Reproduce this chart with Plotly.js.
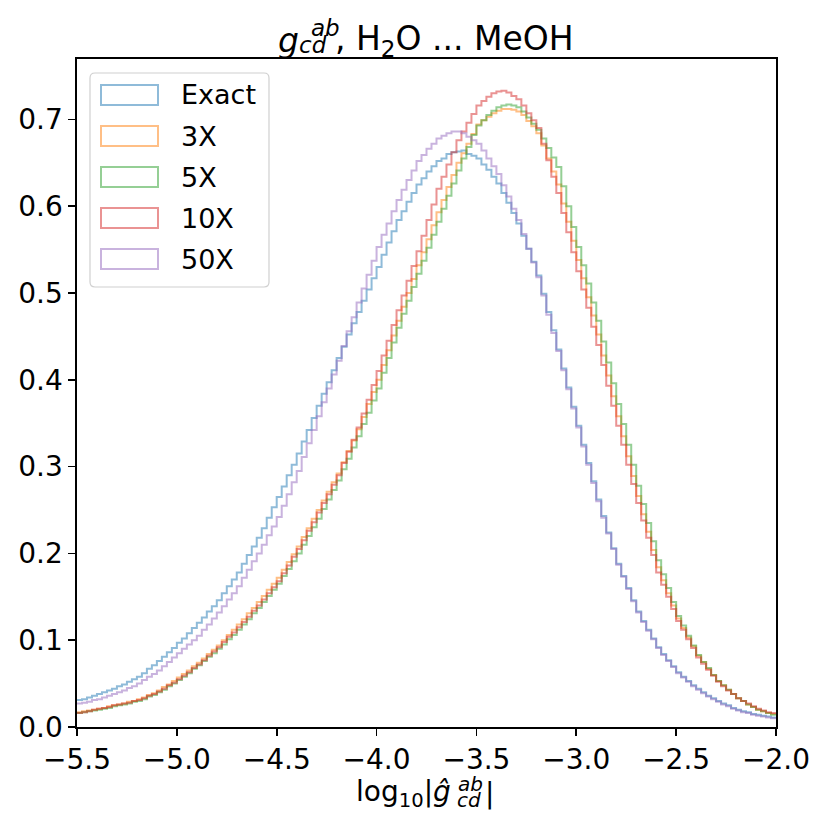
<!DOCTYPE html>
<html>
<head>
<meta charset="utf-8">
<script src="https://cdn.plot.ly/plotly-3.0.1.min.js"></script>
<style>html,body{margin:0;padding:0;background:#fff;}#chart{width:830px;height:830px;}</style>
</head>
<body>
<div id="chart"></div>
<script>
// ---- data ----
const seriesNames = ["Exact", "3X", "5X", "10X", "50X"];
const binStart = -5.5;
const binWidth = 0.025;

const exact = [
.031,.032,.034,.036, .038,.040,.042,.044, .047,.049,.052,.055, .058,.062,.067,.071,
.076,.081,.086,.091, .097,.102,.108,.114, .120,.126,.133,.139, .146,.154,.162,.170,
.178,.188,.198,.208, .218,.229,.241,.253, .265,.277,.290,.302, .315,.329,.342,.356,
.370,.384,.397,.411, .425,.438,.452,.465, .478,.491,.504,.517, .530,.544,.558,.571,
.584,.594,.605,.615, .625,.632,.640,.646, .652,.655,.660,.662, .663,.664,.660,.658,
.655,.648,.642,.634, .626,.615,.604,.592, .580,.566,.551,.536, .520,.499,.478,.457,
.435,.413,.391,.369, .347,.325,.304,.283, .262,.243,.224,.206, .188,.174,.160,.146,
.133,.122,.112,.102, .092,.084,.077,.070, .063,.058,.053,.048, .044,.040,.036,.033,
.030,.027,.025,.022, .020,.018,.017,.015, .014,.013,.012,.011];

const x3 = [
.017,.018,.019,.020, .021,.022,.024,.025, .026,.027,.029,.030, .032,.034,.037,.039,
.042,.046,.049,.053, .057,.061,.065,.070, .074,.079,.084,.089, .094,.100,.106,.112,
.118,.124,.131,.137, .144,.151,.158,.165, .172,.181,.190,.199, .208,.219,.229,.240,
.250,.261,.271,.282, .292,.305,.318,.330, .343,.357,.372,.386, .400,.417,.434,.451,
.468,.484,.500,.516, .532,.547,.562,.578, .593,.607,.622,.636, .650,.661,.672,.683,
.694,.699,.703,.707, .710,.712,.712,.711, .709,.705,.698,.692, .684,.670,.655,.640,
.625,.603,.582,.560, .538,.517,.495,.474, .452,.428,.405,.381, .358,.335,.312,.289,
.266,.245,.225,.204, .184,.169,.154,.140, .125,.114,.103,.093, .082,.075,.067,.060,
.053,.048,.043,.038, .033,.030,.026,.023, .020,.018,.016,.015];

const x5 = [
.016,.017,.018,.019, .020,.021,.022,.024, .025,.026,.027,.029, .030,.032,.035,.037,
.040,.043,.047,.050, .054,.058,.062,.067, .071,.076,.081,.085, .090,.095,.101,.106,
.112,.118,.124,.131, .137,.144,.151,.158, .165,.174,.182,.191, .200,.210,.220,.230,
.240,.251,.262,.273, .284,.297,.309,.322, .335,.349,.362,.376, .390,.408,.425,.443,
.460,.476,.491,.507, .522,.537,.552,.567, .582,.597,.612,.626, .641,.655,.668,.682,
.693,.699,.705,.710, .714,.716,.717,.716, .714,.709,.702,.695, .688,.678,.667,.656,
.645,.623,.600,.576, .553,.532,.511,.489, .468,.444,.420,.396, .372,.349,.325,.302,
.278,.257,.235,.214, .192,.176,.160,.144, .128,.117,.105,.094, .083,.075,.068,.060,
.053,.048,.043,.038, .033,.030,.026,.023, .020,.018,.016,.014];

const x10 = [
.016,.017,.018,.020, .021,.022,.023,.025, .026,.027,.028,.030, .031,.033,.036,.038,
.041,.044,.048,.051, .055,.059,.063,.068, .072,.077,.082,.087, .092,.098,.104,.109,
.115,.121,.127,.134, .140,.147,.154,.161, .168,.177,.186,.196, .205,.215,.226,.236,
.247,.258,.268,.279, .290,.304,.317,.331, .345,.361,.377,.394, .410,.428,.445,.463,
.480,.497,.514,.531, .548,.566,.584,.602, .620,.634,.648,.662, .676,.686,.696,.706,
.716,.721,.726,.730, .732,.733,.731,.727, .723,.716,.707,.699, .690,.672,.653,.634,
.615,.592,.570,.547, .525,.504,.483,.461, .440,.417,.393,.370, .347,.325,.302,.280,
.258,.238,.218,.198, .178,.164,.150,.136, .122,.112,.101,.091, .080,.073,.066,.059,
.052,.047,.042,.038, .033,.030,.027,.024, .021,.019,.017,.016];

const x50 = [
.027,.028,.029,.031, .032,.034,.036,.038, .040,.042,.045,.047, .050,.054,.058,.061,
.065,.070,.075,.080, .085,.090,.095,.100, .105,.112,.118,.125, .132,.139,.147,.154,
.162,.172,.181,.191, .200,.210,.221,.231, .242,.255,.268,.282, .295,.311,.327,.342,
.358,.374,.390,.406, .422,.439,.456,.472, .489,.505,.521,.537, .553,.567,.580,.594,
.607,.619,.630,.641, .652,.659,.666,.672, .678,.681,.684,.686, .686,.684,.680,.676,
.672,.664,.655,.646, .637,.624,.611,.597, .584,.568,.551,.535, .518,.497,.475,.454,
.433,.411,.389,.367, .345,.323,.302,.281, .260,.241,.223,.205, .187,.173,.159,.145,
.132,.121,.111,.101, .091,.083,.076,.069, .062,.057,.052,.047, .043,.039,.035,.032,
.029,.026,.024,.021, .019,.017,.016,.014, .013,.012,.011,.010];

const xTickVals = [-5.5, -5.0, -4.5, -4.0, -3.5, -3.0, -2.5, -2.0];
const yTickVals = [0.0, 0.1, 0.2, 0.3, 0.4, 0.5, 0.6, 0.7];

// ---- drawing ----
const allSeries = [exact, x3, x5, x10, x50];
const colors = ["rgba(31,119,180,0.5)", "rgba(255,127,14,0.5)", "rgba(44,160,44,0.5)", "rgba(214,39,40,0.5)", "rgba(148,103,189,0.5)"];
const FONT = "DejaVu Sans, Liberation Sans, sans-serif";

const traces = allSeries.map((vals, i) => {
  const xs = vals.map((_, k) => binStart + k * binWidth);
  xs.push(binStart + vals.length * binWidth);
  const ys = vals.slice();
  ys.push(vals[vals.length - 1]);
  return {
    x: xs, y: ys, type: "scatter", mode: "lines", name: seriesNames[i],
    line: {shape: "hv", color: colors[i], width: 2}, showlegend: false, hoverinfo: "skip"
  };
});

const L = 77, R = 776, T = 59, B = 727;
const px = p => (p - L) / (R - L);
const py = p => (B - p) / (B - T);

const shapes = [];
const annotations = [];
function txt(text, xPix, yPix, size, xanchor) {
  annotations.push({xref: "paper", yref: "paper", x: px(xPix), y: py(yPix),
    xanchor: xanchor || "left", yanchor: "middle", text: text, showarrow: false,
    borderpad: 0, font: {family: FONT, size: size, color: "#000"}});
}
// legend frame (rounded)
(function(){
  const x0 = 90, x1 = 269, y0 = 73, y1 = 287, r = 5;
  const d = `M ${px(x0 + r)} ${py(y0)} L ${px(x1 - r)} ${py(y0)} Q ${px(x1)} ${py(y0)} ${px(x1)} ${py(y0 + r)} ` +
            `L ${px(x1)} ${py(y1 - r)} Q ${px(x1)} ${py(y1)} ${px(x1 - r)} ${py(y1)} ` +
            `L ${px(x0 + r)} ${py(y1)} Q ${px(x0)} ${py(y1)} ${px(x0)} ${py(y1 - r)} ` +
            `L ${px(x0)} ${py(y0 + r)} Q ${px(x0)} ${py(y0)} ${px(x0 + r)} ${py(y0)} Z`;
  shapes.push({type: "path", xref: "paper", yref: "paper", path: d,
    line: {color: "#d0d0d0", width: 1.2}, fillcolor: "rgba(255,255,255,0.8)", layer: "above"});
})();
const rowTops = [85, 126, 167, 208, 249];
seriesNames.forEach((nm, i) => {
  const top = rowTops[i];
  shapes.push({type: "rect", xref: "paper", yref: "paper",
    x0: px(101), x1: px(158), y0: py(top + 20), y1: py(top),
    line: {color: colors[i], width: 2}, fillcolor: "rgba(0,0,0,0)", layer: "above"});
  txt(nm, 180, top + 10, 27, "left");
});

// title: g_{cd}^{ab}, H2O ... MeOH
txt("<i>g</i>", 277, 40, 33, "left");
txt("<i>cd</i>", 298, 45, 23, "left");
txt("<i>ab</i>", 310, 28, 23, "left");
txt(", H<sub>2</sub>O ... MeOH", 334, 40, 33, "left");

// x label: log10|ĝ_{cd}^{ab}|
txt("log<sub>10</sub>|<i>ĝ</i>", 452, 793, 28, "right");
txt("<i>cd</i>", 456, 800, 20, "left");
txt("<i>ab</i>", 457, 784, 20, "left");
txt("|", 484, 793, 28, "left");

const axisCommon = {
  ticks: "outside", ticklen: 7, tickwidth: 1.6, tickcolor: "#000",
  showline: true, linecolor: "#000", linewidth: 1.6, mirror: true,
  showgrid: false, zeroline: false, tickformat: ".1f",
  tickfont: {family: FONT, size: 28, color: "#000"}
};

const layout = {
  width: 830, height: 830,
  margin: {l: L, r: 830 - R, t: T, b: 830 - B, pad: 0},
  paper_bgcolor: "#fff", plot_bgcolor: "#fff",
  showlegend: false,
  xaxis: Object.assign({}, axisCommon, {range: [-5.5, -2.0], tickmode: "array", tickvals: xTickVals}),
  yaxis: Object.assign({}, axisCommon, {range: [0, 0.7695], tickmode: "array", tickvals: yTickVals}),
  shapes: shapes,
  annotations: annotations
};

Plotly.newPlot("chart", traces, layout, {staticPlot: true, displayModeBar: false});
</script>
</body>
</html>
